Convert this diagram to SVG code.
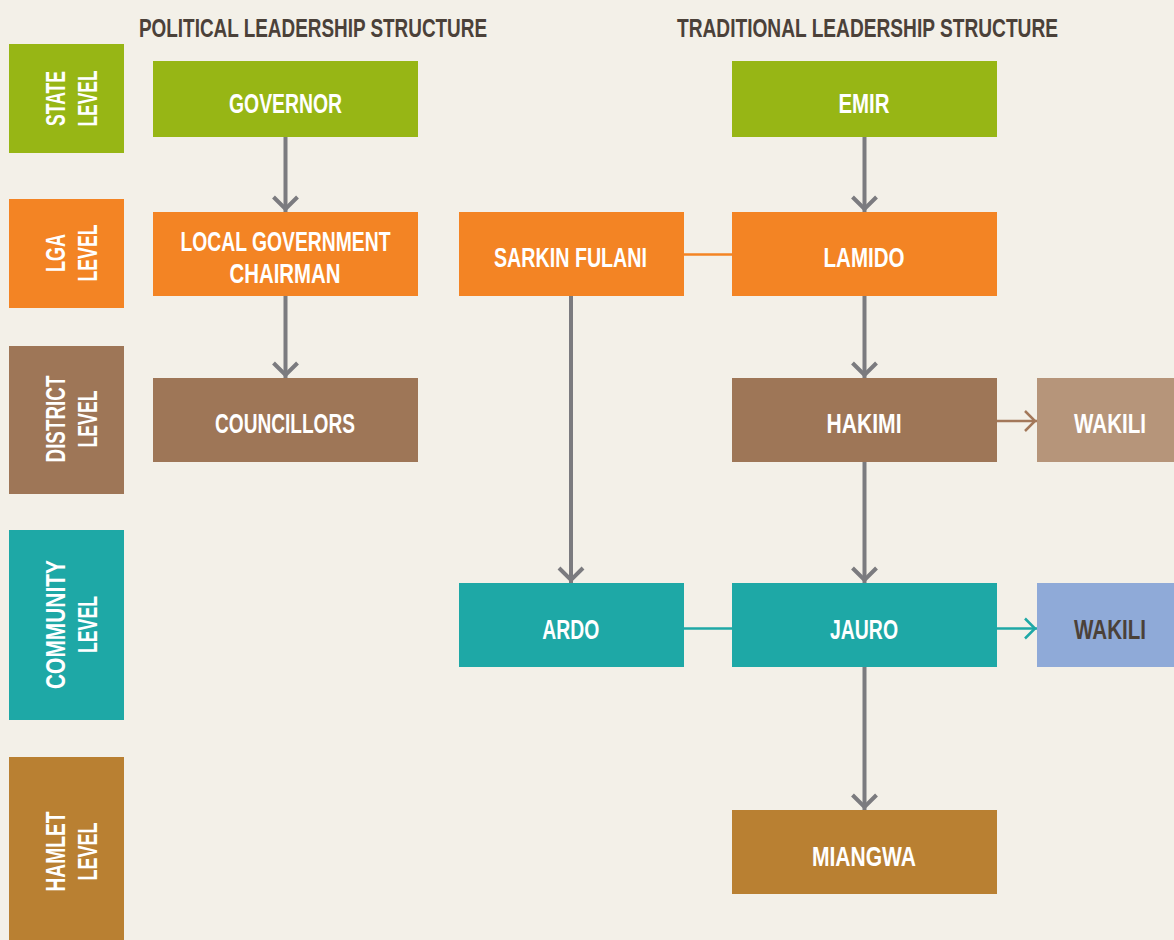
<svg xmlns="http://www.w3.org/2000/svg" width="1174" height="940" viewBox="0 0 1174 940">
  <style>
    .bg { fill: #f3f0e8; }
    .title { font-family: "Liberation Sans", Arial, sans-serif; font-weight: bold; font-size: 26px; fill: #4b4139; }
    .lbl { font-family: "Liberation Sans", Arial, sans-serif; font-weight: bold; font-size: 27px; fill: #ffffff; text-anchor: middle; }
    .lvl { font-family: "Liberation Sans", Arial, sans-serif; font-weight: bold; font-size: 28px; fill: #ffffff; text-anchor: middle; }
    .dark { fill: #4b4139; }
    .green { fill: #97b615; }
    .orange { fill: #f38424; }
    .brown { fill: #9e7657; }
    .teal { fill: #1ea8a6; }
    .ochre { fill: #b98032; }
    .tan { fill: #b6957a; }
    .blue { fill: #8faad8; }
    .down { stroke: #7b7b7f; stroke-width: 4; fill: none; }
    .link-o { stroke: #f38424; stroke-width: 2.5; fill: none; }
    .link-t { stroke: #1ea8a6; stroke-width: 2.5; fill: none; }
    .link-b { stroke: #a3785a; stroke-width: 2.5; fill: none; }
  </style>
  <defs>
    <marker id="chev-gray" markerUnits="userSpaceOnUse" viewBox="-18 -16 20 32" markerWidth="20" markerHeight="32" refX="0" refY="0" orient="auto">
      <path d="M-15,-12 L-3,0 L-15,12" fill="none" stroke="#7b7b7f" stroke-width="4"/>
    </marker>
    <marker id="chev-brown" markerUnits="userSpaceOnUse" viewBox="-16 -14 18 28" markerWidth="18" markerHeight="28" refX="0" refY="0" orient="auto">
      <path d="M-12,-10 L-2,0 L-12,10" fill="none" stroke="#a3785a" stroke-width="2.5"/>
    </marker>
    <marker id="chev-teal" markerUnits="userSpaceOnUse" viewBox="-16 -14 18 28" markerWidth="18" markerHeight="28" refX="0" refY="0" orient="auto">
      <path d="M-12,-10 L-2,0 L-12,10" fill="none" stroke="#1ea8a6" stroke-width="2.5"/>
    </marker>
  </defs>

  <rect class="bg" x="0" y="0" width="1174" height="940"/>

  <!-- column headings -->
  <text class="title" x="139" y="37" textLength="348" lengthAdjust="spacingAndGlyphs">POLITICAL LEADERSHIP STRUCTURE</text>
  <text class="title" x="677" y="37" textLength="381" lengthAdjust="spacingAndGlyphs">TRADITIONAL LEADERSHIP STRUCTURE</text>

  <!-- level bands on the left -->
  <g id="level-state">
    <rect class="green" x="9" y="44" width="115" height="109"/>
    <g transform="translate(0,98.5) rotate(-90)">
      <text class="lvl" x="0" y="65" textLength="55" lengthAdjust="spacingAndGlyphs">STATE</text>
      <text class="lvl" x="0" y="97" textLength="56" lengthAdjust="spacingAndGlyphs">LEVEL</text>
    </g>
  </g>
  <g id="level-lga">
    <rect class="orange" x="9" y="199" width="115" height="109"/>
    <g transform="translate(0,253) rotate(-90)">
      <text class="lvl" x="0" y="65" textLength="38" lengthAdjust="spacingAndGlyphs">LGA</text>
      <text class="lvl" x="0" y="97" textLength="57" lengthAdjust="spacingAndGlyphs">LEVEL</text>
    </g>
  </g>
  <g id="level-district">
    <rect class="brown" x="9" y="346" width="115" height="148"/>
    <g transform="translate(0,419) rotate(-90)">
      <text class="lvl" x="0" y="65" textLength="87" lengthAdjust="spacingAndGlyphs">DISTRICT</text>
      <text class="lvl" x="0" y="97" textLength="57" lengthAdjust="spacingAndGlyphs">LEVEL</text>
    </g>
  </g>
  <g id="level-community">
    <rect class="teal" x="9" y="530" width="115" height="190"/>
    <g transform="translate(0,624.5) rotate(-90)">
      <text class="lvl" x="0" y="65" textLength="129" lengthAdjust="spacingAndGlyphs">COMMUNITY</text>
      <text class="lvl" x="0" y="97" textLength="57" lengthAdjust="spacingAndGlyphs">LEVEL</text>
    </g>
  </g>
  <g id="level-hamlet">
    <rect class="ochre" x="9" y="757" width="115" height="190"/>
    <g transform="translate(0,851.5) rotate(-90)">
      <text class="lvl" x="0" y="65" textLength="80" lengthAdjust="spacingAndGlyphs">HAMLET</text>
      <text class="lvl" x="0" y="97" textLength="58" lengthAdjust="spacingAndGlyphs">LEVEL</text>
    </g>
  </g>

  <!-- connectors -->
  <g id="connectors">
    <line class="down" x1="285.5" y1="137" x2="285.5" y2="212" marker-end="url(#chev-gray)"/>
    <line class="down" x1="285.5" y1="296" x2="285.5" y2="378" marker-end="url(#chev-gray)"/>
    <line class="down" x1="864.5" y1="137" x2="864.5" y2="212" marker-end="url(#chev-gray)"/>
    <line class="down" x1="864.5" y1="296" x2="864.5" y2="378" marker-end="url(#chev-gray)"/>
    <line class="down" x1="864.5" y1="462" x2="864.5" y2="583" marker-end="url(#chev-gray)"/>
    <line class="down" x1="864.5" y1="667" x2="864.5" y2="810" marker-end="url(#chev-gray)"/>
    <line class="down" x1="571" y1="296" x2="571" y2="583" marker-end="url(#chev-gray)"/>
    <line class="link-o" x1="684" y1="254.5" x2="732" y2="254.5"/>
    <line class="link-t" x1="684" y1="628.5" x2="732" y2="628.5"/>
    <line class="link-b" x1="997" y1="421" x2="1037" y2="421" marker-end="url(#chev-brown)"/>
    <line class="link-t" x1="997" y1="628.5" x2="1037" y2="628.5" marker-end="url(#chev-teal)"/>
  </g>

  <!-- political structure -->
  <g id="governor">
    <rect class="green" x="153" y="61" width="265" height="76"/>
    <text class="lbl" x="285.5" y="112.7" textLength="113" lengthAdjust="spacingAndGlyphs">GOVERNOR</text>
  </g>
  <g id="lga-chairman">
    <rect class="orange" x="153" y="212" width="265" height="84"/>
    <text class="lbl" x="285.5" y="250.7" textLength="210" lengthAdjust="spacingAndGlyphs">LOCAL GOVERNMENT</text>
    <text class="lbl" x="285" y="283.3" textLength="111" lengthAdjust="spacingAndGlyphs">CHAIRMAN</text>
  </g>
  <g id="councillors">
    <rect class="brown" x="153" y="378" width="265" height="84"/>
    <text class="lbl" x="285" y="432.7" textLength="140" lengthAdjust="spacingAndGlyphs">COUNCILLORS</text>
  </g>

  <!-- traditional structure -->
  <g id="emir">
    <rect class="green" x="732" y="61" width="265" height="76"/>
    <text class="lbl" x="864" y="112.7" textLength="51" lengthAdjust="spacingAndGlyphs">EMIR</text>
  </g>
  <g id="sarkin-fulani">
    <rect class="orange" x="459" y="212" width="225" height="84"/>
    <text class="lbl" x="570.5" y="266.7" textLength="153" lengthAdjust="spacingAndGlyphs">SARKIN FULANI</text>
  </g>
  <g id="lamido">
    <rect class="orange" x="732" y="212" width="265" height="84"/>
    <text class="lbl" x="864" y="266.7" textLength="81" lengthAdjust="spacingAndGlyphs">LAMIDO</text>
  </g>
  <g id="hakimi">
    <rect class="brown" x="732" y="378" width="265" height="84"/>
    <text class="lbl" x="864" y="433.3" textLength="75" lengthAdjust="spacingAndGlyphs">HAKIMI</text>
  </g>
  <g id="wakili-district">
    <rect class="tan" x="1037" y="378" width="150" height="84"/>
    <text class="lbl" x="1110" y="433.3" textLength="72" lengthAdjust="spacingAndGlyphs">WAKILI</text>
  </g>
  <g id="ardo">
    <rect class="teal" x="459" y="583" width="225" height="84"/>
    <text class="lbl" x="570.7" y="639" textLength="57" lengthAdjust="spacingAndGlyphs">ARDO</text>
  </g>
  <g id="jauro">
    <rect class="teal" x="732" y="583" width="265" height="84"/>
    <text class="lbl" x="864" y="638.5" textLength="68" lengthAdjust="spacingAndGlyphs">JAURO</text>
  </g>
  <g id="wakili-community">
    <rect class="blue" x="1037" y="583" width="150" height="84"/>
    <text class="lbl dark" x="1110" y="638.5" textLength="72" lengthAdjust="spacingAndGlyphs">WAKILI</text>
  </g>
  <g id="miangwa">
    <rect class="ochre" x="732" y="810" width="265" height="84"/>
    <text class="lbl" x="864" y="866" textLength="104" lengthAdjust="spacingAndGlyphs">MIANGWA</text>
  </g>
</svg>
